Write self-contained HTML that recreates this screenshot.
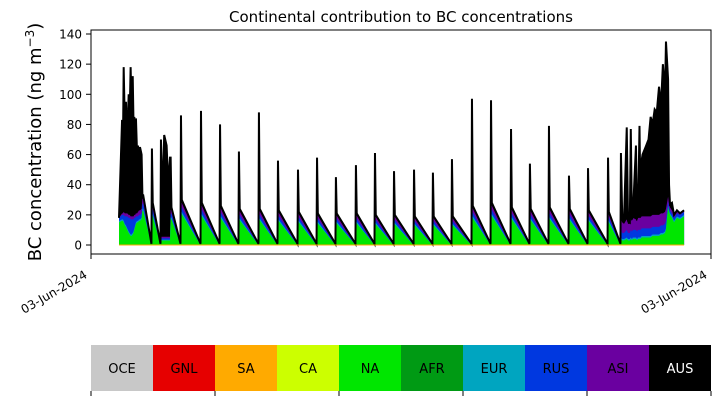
<!DOCTYPE html>
<html><head><meta charset="utf-8">
<style>
html,body{margin:0;padding:0;background:#fff;}
body{width:720px;height:402px;overflow:hidden;font-family:"DejaVu Sans","Liberation Sans",sans-serif;}
svg text{font-family:"DejaVu Sans","Liberation Sans",sans-serif;}
</style></head>
<body>
<svg id="chart" width="720" height="402" viewBox="0 0 720 402" xmlns="http://www.w3.org/2000/svg">
<text x="401" y="22" font-size="15" text-anchor="middle">Continental contribution to BC concentrations</text>
<g id="plot"></g>
<rect x="91" y="30" width="620" height="224" fill="none" stroke="#000" stroke-width="1"/>
<g id="yaxis"></g>
<text transform="translate(41,142) rotate(-90)" font-size="18" text-anchor="middle">BC concentration (ng m<tspan baseline-shift="super" font-size="12">−3</tspan>)</text>
<g id="xaxis">
<line x1="91" y1="254" x2="91" y2="259" stroke="#000"/>
<line x1="711" y1="254" x2="711" y2="259" stroke="#000"/>
<text transform="translate(88,277) rotate(-30)" font-size="12" text-anchor="end">03-Jun-2024</text>
<text transform="translate(708,277) rotate(-30)" font-size="12" text-anchor="end">03-Jun-2024</text>
</g>
<g id="legend"></g>
</svg>
<script>
// ---- data ----
const earlyT   = [0, 1.9, 2.4, 2.9, 3.6, 4.3, 5.1, 6, 6.6, 7.2, 7.8, 8.5, 9, 9.5, 10, 10.5, 11.2, 11.8, 12.4, 13, 14];
const earlyTop = [18, 83, 60, 118, 80, 95, 70, 100, 85, 118, 90, 112, 80, 85, 70, 84, 60, 66, 50, 65, 60];
const earlyNA  = [15, 16, 16, 15, 13, 12, 10, 8, 7, 6, 6, 7, 8, 10, 12, 14, 15, 15, 16, 16, 17];
const earlyRUS = [2, 3, 3, 4, 5, 6, 8, 9, 10, 10, 10, 9, 8, 7, 5, 4, 3, 3, 3, 3, 3];
const earlyASI = [1, 1, 1, 2, 2, 2, 2, 2, 2, 2, 2, 2, 2, 2, 2, 2, 2, 3, 3, 3, 3];

const cycleStart = [14.5, 20.4, 32, 38.4, 50.8, 62.6, 74.3, 86.7, 98.5, 110.9, 122.7, 134.4, 146.8, 158.6, 170.4, 182.8, 194.5, 206.3, 218.7, 230.5, 242.9, 254.6, 266.4, 278.8, 290.6, 303];
const cycleSpike = [33, 64, 58, 86, 89, 80, 62, 88, 56, 50, 58, 45, 53, 61, 49, 50, 48, 57, 97, 96, 77, 54, 79, 46, 51, 58];
const cycleBase  = [33, 28, 25, 30, 28, 26, 24, 24, 23, 22, 21, 21, 21, 20, 20, 19, 19, 19, 26, 28, 25, 24, 25, 24, 23, 22];
const clusterT   = [26, 27, 28, 29.5, 30.5, 31.6];
const clusterTop = [70, 30, 73, 66, 40, 58];

const lateT   = [311, 311.8, 312.9, 314.6, 315.4, 316.5, 317.1, 317.8, 318.4, 320.3, 321, 321.6, 322.5, 323.2, 323.8, 324.4, 326.3, 328.1, 329.4, 330.6, 331.9, 333.2, 334.6, 335.8, 337, 338.3, 338.9, 340.2, 340.8, 341.4, 342.6, 343.9, 345.7, 347.6, 350.1];
const lateTop = [61, 18, 17, 78, 16, 15, 77, 17, 20, 66, 18, 19, 79, 20, 56, 60, 65, 70, 85, 80, 90, 88, 105, 92, 120, 100, 135, 110, 40, 27, 28, 20, 23, 21, 23];
const lateNA  = [4, 3, 3, 4, 3, 3, 4, 3, 4, 4, 3, 4, 4, 4, 5, 5, 5, 5, 5, 6, 6, 6, 6, 7, 7, 8, 10, 25, 22, 20, 18, 15, 18, 17, 19];
const lateRUS = [5, 4, 4, 5, 4, 4, 5, 5, 5, 5, 5, 5, 5, 5, 5, 5, 5, 5, 5, 5, 5, 5, 5, 5, 5, 5, 5, 3, 2, 2, 2, 2, 2, 2, 2];
const lateASI = [7, 7, 6, 7, 6, 6, 7, 7, 8, 7, 7, 8, 8, 8, 8, 8, 8, 8, 8, 8, 8, 8, 8, 8, 8, 8, 8, 3, 2, 2, 2, 2, 2, 2, 1];

const legendNames = ["OCE","GNL","SA","CA","NA","AFR","EUR","RUS","ASI","AUS"];
const legendColors = ["#c8c8c8","#e60000","#ffaa00","#ccff00","#00e600","#009a14","#00a5c0","#0038e0","#6a00a0","#000000"];
const yTicks = [0,20,40,60,80,100,120,140];

// ---- scales ----
const tMin = -17.35, tMax = 366.8;
const X = t => 91 + (t - tMin) / (tMax - tMin) * 620;
const Y = v => 245 - v * 211 / 140;
const NS = "http://www.w3.org/2000/svg";

// ---- build point list: [t, na, eur, rus, asi, top] ----
const pts = [];
for (let i = 0; i < earlyT.length; i++) pts.push([earlyT[i], earlyNA[i], 1, earlyRUS[i], earlyASI[i], earlyTop[i]]);
for (let i = 0; i < cycleStart.length; i++) {
  const s = cycleStart[i], B = cycleBase[i];
  const end = i + 1 < cycleStart.length ? cycleStart[i + 1] : 311;
  const comp = [B*0.68, B*0.05, B*0.1, B*0.1];
  if (i === 1) {
    pts.push([s, ...comp, cycleSpike[i]]);
    pts.push([s+0.5, ...comp, B]);
    pts.push([25.7, 0, 0, 0, 0, 0.8]);
    for (let k = 0; k < clusterT.length; k++) pts.push([clusterT[k], 3, 0.5, 1, 1, clusterTop[k]]);
    continue;
  }
  pts.push([s, ...comp, Math.max(cycleSpike[i], B)]);
  pts.push([s+0.5, ...comp, B]);
  pts.push([end-0.3, 0, 0, 0, 0, 0.8]);
}
for (let i = 0; i < lateT.length; i++) pts.push([lateT[i], lateNA[i], 1, lateRUS[i], lateASI[i], lateTop[i]]);

const plot = document.getElementById('plot');
function layer(lowerFn, upperFn, color, name) {
  let d = "M" + pts.map(p => X(p[0]).toFixed(2) + "," + Y(upperFn(p)).toFixed(2)).join("L");
  for (let i = pts.length - 1; i >= 0; i--) d += "L" + X(pts[i][0]).toFixed(2) + "," + Y(lowerFn(pts[i])).toFixed(2);
  d += "Z";
  const el = document.createElementNS(NS, 'path');
  el.setAttribute('d', d);
  el.setAttribute('fill', color);
  
  
  plot.appendChild(el);
}
const sNA = p => p[1], sEUR = p => p[1]+p[2], sRUS = p => p[1]+p[2]+p[3], sASI = p => p[1]+p[2]+p[3]+p[4];
layer(p => 0, p => p[5], "#000000", "area-aus");
layer(p => 0, p => Math.min(sASI(p), p[5]), "#6a00a0", "area-asi");
layer(p => 0, p => Math.min(sRUS(p), p[5]), "#0038e0", "area-rus");
layer(p => 0, p => Math.min(sEUR(p), p[5]), "#00a5c0", "area-eur");
layer(p => 0, p => Math.min(sNA(p), p[5]), "#00e600", "area-na");
const topLine = document.createElementNS(NS, 'path');
topLine.setAttribute('d', "M" + pts.map(p => X(p[0]).toFixed(2) + "," + Y(p[5]).toFixed(2)).join("L"));
topLine.setAttribute('fill', 'none');
topLine.setAttribute('stroke', '#000');
topLine.setAttribute('stroke-width', '2');


plot.appendChild(topLine);
const base = document.createElementNS(NS, 'line');
base.setAttribute('x1', X(0)); base.setAttribute('x2', X(350.1));
base.setAttribute('y1', Y(0)); base.setAttribute('y2', Y(0));
base.setAttribute('stroke', '#ffaa00'); base.setAttribute('stroke-width', '1');


plot.appendChild(base);

// ---- y axis ----
const ya = document.getElementById('yaxis');
yTicks.forEach(v => {
  const l = document.createElementNS(NS, 'line');
  l.setAttribute('x1', 86); l.setAttribute('x2', 91);
  l.setAttribute('y1', Y(v)); l.setAttribute('y2', Y(v));
  l.setAttribute('stroke', '#000');
  
  
  ya.appendChild(l);
  const t = document.createElementNS(NS, 'text');
  t.setAttribute('x', 82); t.setAttribute('y', Y(v) + 4.5);
  t.setAttribute('font-size', '12'); t.setAttribute('text-anchor', 'end');
  t.textContent = v;
  
  
  ya.appendChild(t);
});

// ---- legend colorbar ----
const lg = document.getElementById('legend');
legendNames.forEach((n, i) => {
  const x = 91 + i * 62;
  const r = document.createElementNS(NS, 'rect');
  r.setAttribute('x', x); r.setAttribute('y', 345); r.setAttribute('width', 62); r.setAttribute('height', 46);
  r.setAttribute('fill', legendColors[i]);
  
  
  lg.appendChild(r);
  const t = document.createElementNS(NS, 'text');
  t.setAttribute('x', x + 31); t.setAttribute('y', 373);
  t.setAttribute('font-size', '13'); t.setAttribute('text-anchor', 'middle');
  t.setAttribute('fill', n === 'AUS' ? '#fff' : '#000');
  t.textContent = n;
  
  
  lg.appendChild(t);
});
for (let k = 0; k <= 5; k++) {
  const l = document.createElementNS(NS, 'line');
  l.setAttribute('x1', 91 + k * 124); l.setAttribute('x2', 91 + k * 124);
  l.setAttribute('y1', 391); l.setAttribute('y2', 396);
  l.setAttribute('stroke', '#000');
  
  
  lg.appendChild(l);
}
</script>
</body></html>
